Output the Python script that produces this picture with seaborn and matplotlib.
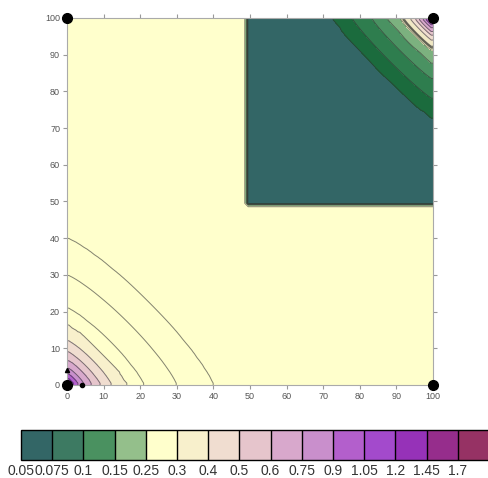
import numpy as np
import matplotlib
matplotlib.use("Agg")
import matplotlib.pyplot as plt
import seaborn as sns

# colour levels of the filled contour (as printed on the colour bar)
levels = [0.05, 0.075, 0.1, 0.15, 0.25, 0.3, 0.4, 0.5, 0.6, 0.75, 0.9, 1.05, 1.2, 1.45, 1.7]
level_labels = ["0.05", "0.075", "0.1", "0.15", "0.25", "0.3", "0.4", "0.5",
                "0.6", "0.75", "0.9", "1.05", "1.2", "1.45", "1.7"]
colors = ["#336666", "#3d7a62", "#4a9160", "#94bf8b", "#ffffcc", "#f8f0cc",
          "#f0ddd0", "#e6c5cc", "#d8a8cc", "#c98fcc", "#b35fcc", "#a34acc",
          "#9632b8", "#962d8c", "#963264"]
# extra iso-lines seen inside single colour bands
extra_lines = [0.125, 0.27, 0.28, 0.29]

# the top-right corner is shaded with darker greens than the colour bar
corner_levels = [0.075, 0.1, 0.125, 0.15, 0.25, 0.3, 0.4, 0.5, 0.6, 0.75, 0.9,
                 1.05, 1.2, 1.45, 3.0]
corner_colors = ["#1b6b3d", "#2e7d4e", "#4a9262", "#7cb17f", "#ffffcc", "#f0e8c4",
                 "#f0ddd0", "#e6c5cc", "#d8a8cc", "#c98fcc", "#b35fcc", "#a34acc",
                 "#9632b8", "#962d8c"]

# lower-left corner: distance from (0,0) where each value is reached
ll_radius = [0, 1.0, 2.0, 3.2, 4.8, 6.8, 9.2, 12.2, 16.0, 21.0, 30.0, 40.0, 48.0]
ll_value = [1.3, 1.2, 1.05, 0.9, 0.75, 0.6, 0.5, 0.4, 0.3, 0.29, 0.28, 0.27, 0.265]

# upper-right block: distance from (100,100) where each value is reached
ur_radius = [0, 0.4, 0.9, 1.5, 2.2, 3.0, 4.0, 5.0, 6.3, 8.0, 9.0, 12.3, 16.8, 22.2, 27.3, 40.0]
ur_value = [1.6, 1.45, 1.2, 1.05, 0.9, 0.75, 0.6, 0.5, 0.4, 0.3, 0.25, 0.15, 0.125, 0.1, 0.075, 0.06]
block_start = 49.5

# sample points
big_x = [0, 100, 0, 100]
big_y = [0, 0, 100, 100]
tri_x, tri_y = [0], [4]
dot_x, dot_y = [4], [0]

sns.set_style("ticks")
plt.rcParams["font.family"] = ["Liberation Sans", "DejaVu Sans"]

g = np.arange(-0.5, 101, 1.0)
X, Y = np.meshgrid(g, g)
AX, AY = np.abs(X), np.abs(Y)
d_ll = (AX ** 1.2 + AY ** 1.2) ** (1 / 1.2)
Z = np.interp(d_ll, ll_radius, ll_value)
block = (X >= block_start) & (Y >= block_start)
d_ur = (np.abs(100 - X) ** 1.1 + np.abs(100 - Y) ** 1.1) ** (1 / 1.1)
Z[block] = np.interp(d_ur[block], ur_radius, ur_value)

fig = plt.figure(figsize=(4.89, 4.78), dpi=100)
ax = fig.add_axes([0.137, 0.1946, 0.7485, 0.7678])

cf = ax.contourf(X, Y, Z, levels=levels + [3.0], colors=colors)
sel = g >= 60
ix = np.ix_(sel, sel)
ax.contourf(X[ix], Y[ix], Z[ix], levels=corner_levels, colors=corner_colors)
ax.contour(X, Y, Z, levels=sorted(levels + extra_lines), colors="#303030",
           linewidths=0.7, alpha=0.6)

ax.plot(big_x, big_y, "o", color="black", markersize=7, clip_on=False, zorder=5)
ax.plot(tri_x, tri_y, "^", color="black", markersize=3, clip_on=False, zorder=5)
ax.plot(dot_x, dot_y, "o", color="black", markersize=3, clip_on=False, zorder=5)

ax.set_xlim(0, 100)
ax.set_ylim(0, 100)
ax.set_xticks(range(0, 101, 10))
ax.set_yticks(range(0, 101, 10))
ax.tick_params(axis="both", which="both", direction="out", length=3, width=0.8,
               color="#999999", labelsize=6.5, labelcolor="#555555",
               top=True, right=True, pad=2)
for sp in ax.spines.values():
    sp.set_color("#aaaaaa")
    sp.set_linewidth(0.8)

cax = fig.add_axes([0.043, 0.0377, 0.957, 0.0628])
cb = fig.colorbar(cf, cax=cax, orientation="horizontal", drawedges=True,
                  ticks=levels)
cb.ax.set_xticklabels(level_labels)
cb.ax.tick_params(length=0, labelsize=10, labelcolor="#333333", pad=3)
cb.outline.set_edgecolor("black")
cb.outline.set_linewidth(1.0)
cb.dividers.set_color("black")
cb.dividers.set_linewidth(1.0)

fig.savefig("out.png", dpi=100)
